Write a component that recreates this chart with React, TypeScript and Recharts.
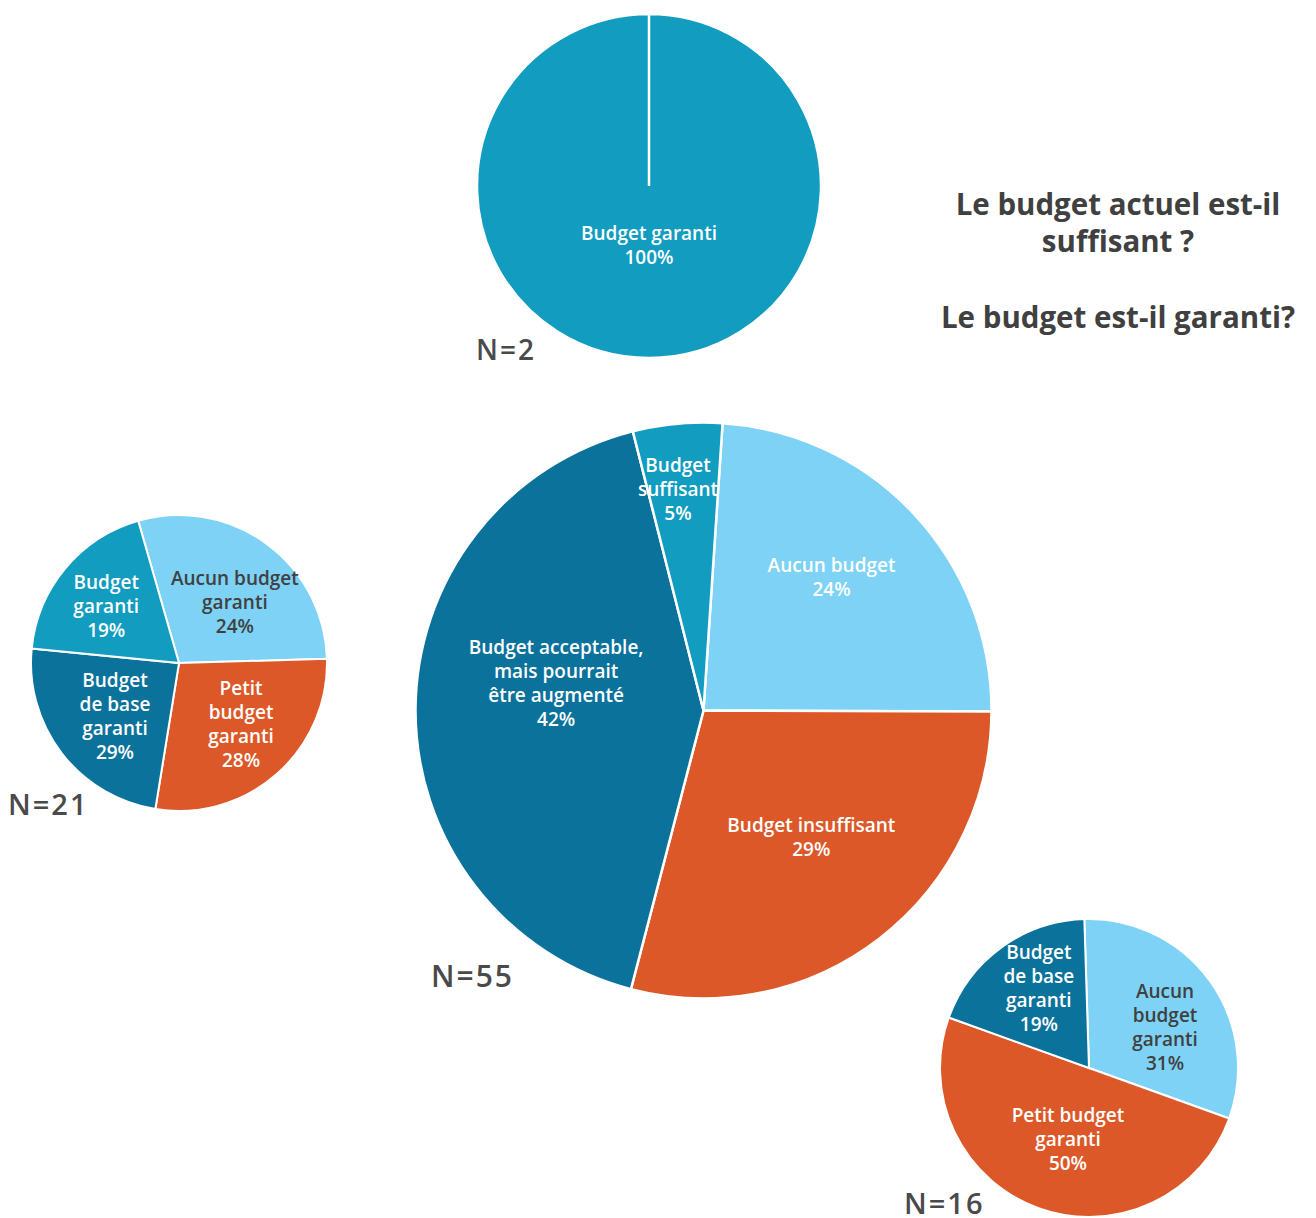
import React from "react";
import { PieChart, Pie, Cell } from "recharts";

// ---------- data ----------
const bigCategories = ["Aucun budget", "Budget insuffisant", "Budget acceptable,\nmais pourrait\nêtre augmenté", "Budget\nsuffisant"];
const bigValues = [24, 29, 42, 5];
const bigPctLabels = ["24%", "29%", "42%", "5%"];

const leftCategories = ["Aucun budget\ngaranti", "Petit\nbudget\ngaranti", "Budget\nde base\ngaranti", "Budget\ngaranti"];
const leftValues = [29, 28, 24, 19];
const leftPctLabels = ["24%", "28%", "29%", "19%"];

const rightCategories = ["Aucun\nbudget\ngaranti", "Petit budget\ngaranti", "Budget\nde base\ngaranti"];
const rightValues = [31, 50, 19];
const rightPctLabels = ["31%", "50%", "19%"];

const topCategories = ["Budget garanti"];
const topValues = [100];
const topPctLabels = ["100%"];

const nLabels = ["N=2", "N=55", "N=21", "N=16"];
const titleLines = ["Le budget actuel est-il", "suffisant ?", "Le budget est-il garanti?"];

// ---------- styles ----------
const LIGHT = "#7dd2f5";
const ORANGE = "#dd5828";
const DARK = "#0b729c";
const TEAL = "#119cc0";
const WHITE = "#ffffff";
const GREY = "#404040";

const bigColors = [LIGHT, ORANGE, DARK, TEAL];
const leftColors = [LIGHT, ORANGE, DARK, TEAL];
const rightColors = [LIGHT, ORANGE, DARK];
const topColors = [TEAL];

const FONT = "'Open Sans', 'Noto Sans', sans-serif";
const RAD = Math.PI / 180;
const LINE_H = 24;

type LabelCfg = { r: number[]; shift: number[]; color: string[] };

const bigLabelCfg: LabelCfg = { r: [0.64, 0.58, 0.52, 0.77], shift: [-3, -2.6, 10, -1.4], color: [WHITE, WHITE, WHITE, WHITE] };
const leftLabelCfg: LabelCfg = { r: [0.554, 0.595, 0.564, 0.62], shift: [6.8, -3.6, -2.3, -2.3], color: [GREY, WHITE, WHITE, WHITE] };
const rightLabelCfg: LabelCfg = { r: [0.575, 0.503, 0.63], shift: [8.5, -3.5, 3.7], color: [GREY, WHITE, WHITE] };
const topLabelCfg: LabelCfg = { r: [0.346], shift: [0], color: [WHITE] };

function buildRows(cats: string[], vals: number[], pcts: string[], colors: string[]) {
  return cats.map((c, i) => ({ name: c, value: vals[i], pct: pcts[i], fill: colors[i] }));
}

const bigData = buildRows(bigCategories, bigValues, bigPctLabels, bigColors);
const leftData = buildRows(leftCategories, leftValues, leftPctLabels, leftColors);
const rightData = buildRows(rightCategories, rightValues, rightPctLabels, rightColors);
const topData = buildRows(topCategories, topValues, topPctLabels, topColors);

function makeLabel(cfg: LabelCfg) {
  return (props: any) => {
    const { cx, cy, midAngle, outerRadius, index, payload } = props;
    const row = payload && payload.name !== undefined ? payload : props;
    const a = (midAngle - cfg.shift[index]) * RAD;
    const d = outerRadius * cfg.r[index];
    const x = cx + d * Math.cos(a);
    const y = cy - d * Math.sin(a) - 1;
    const lines = [...String(row.name).split("\n"), row.pct];
    const y0 = y - ((lines.length - 1) * LINE_H) / 2;
    return (
      <text
        key={`lbl-${index}`}
        x={x}
        y={y0}
        textAnchor="middle"
        dominantBaseline="central"
        fill={cfg.color[index]}
        fontFamily={FONT}
        fontWeight={600}
        fontSize={19}
      >
        {lines.map((l: string, i: number) => (
          <tspan key={i} x={x} y={y0 + i * LINE_H}>
            {l}
          </tspan>
        ))}
      </text>
    );
  };
}

const nStyle: React.CSSProperties = {
  position: "absolute",
  fontFamily: FONT,
  fontWeight: 600,
  color: "#4a4a4a",
  letterSpacing: 2,
  lineHeight: 1,
  whiteSpace: "nowrap",
};

const titleStyle: React.CSSProperties = {
  position: "absolute",
  left: 920,
  width: 396,
  height: 37,
  textAlign: "center",
  fontFamily: FONT,
  fontWeight: 700,
  fontSize: 29.5,
  lineHeight: "37px",
  color: "#404040",
  whiteSpace: "nowrap",
};

export default function App() {
  return (
    <div style={{ position: "absolute", left: 0, top: 0, width: 1316, height: 1218, background: "#fff", overflow: "hidden" }}>
      <PieChart width={1316} height={1218} margin={{ top: 0, right: 0, bottom: 0, left: 0 }}>
        <Pie
          data={topData}
          dataKey="value"
          nameKey="name"
          cx={649}
          cy={186}
          outerRadius={172}
          startAngle={90}
          endAngle={-270}
          stroke="#ffffff"
          strokeWidth={2.5}
          label={makeLabel(topLabelCfg)}
          labelLine={false}
          isAnimationActive={false}
        >
          {topData.map((r, i) => (
            <Cell key={i} fill={r.fill} />
          ))}
        </Pie>
        <Pie
          data={bigData}
          dataKey="value"
          nameKey="name"
          cx={703.5}
          cy={710.5}
          outerRadius={288}
          startAngle={86.2}
          endAngle={-273.8}
          stroke="#ffffff"
          strokeWidth={2.5}
          label={makeLabel(bigLabelCfg)}
          labelLine={false}
          isAnimationActive={false}
        >
          {bigData.map((r, i) => (
            <Cell key={i} fill={r.fill} />
          ))}
        </Pie>
        <Pie
          data={leftData}
          dataKey="value"
          nameKey="name"
          cx={179}
          cy={663}
          outerRadius={148}
          startAngle={106}
          endAngle={-254}
          stroke="#ffffff"
          strokeWidth={2}
          label={makeLabel(leftLabelCfg)}
          labelLine={false}
          isAnimationActive={false}
        >
          {leftData.map((r, i) => (
            <Cell key={i} fill={r.fill} />
          ))}
        </Pie>
        <Pie
          data={rightData}
          dataKey="value"
          nameKey="name"
          cx={1089}
          cy={1068}
          outerRadius={149}
          startAngle={91.8}
          endAngle={-268.2}
          stroke="#ffffff"
          strokeWidth={2}
          label={makeLabel(rightLabelCfg)}
          labelLine={false}
          isAnimationActive={false}
        >
          {rightData.map((r, i) => (
            <Cell key={i} fill={r.fill} />
          ))}
        </Pie>
      </PieChart>

      <div style={{ ...nStyle, left: 476, top: 335, fontSize: 28 }}>{nLabels[0]}</div>
      <div style={{ ...nStyle, left: 431, top: 961, fontSize: 30 }}>{nLabels[1]}</div>
      <div style={{ ...nStyle, left: 8, top: 789, fontSize: 29 }}>{nLabels[2]}</div>
      <div style={{ ...nStyle, left: 904, top: 1188, fontSize: 29 }}>{nLabels[3]}</div>

      <div style={{ ...titleStyle, top: 185 }}>{titleLines[0]}</div>
      <div style={{ ...titleStyle, top: 222 }}>{titleLines[1]}</div>
      <div style={{ ...titleStyle, top: 298 }}>{titleLines[2]}</div>
    </div>
  );
}
